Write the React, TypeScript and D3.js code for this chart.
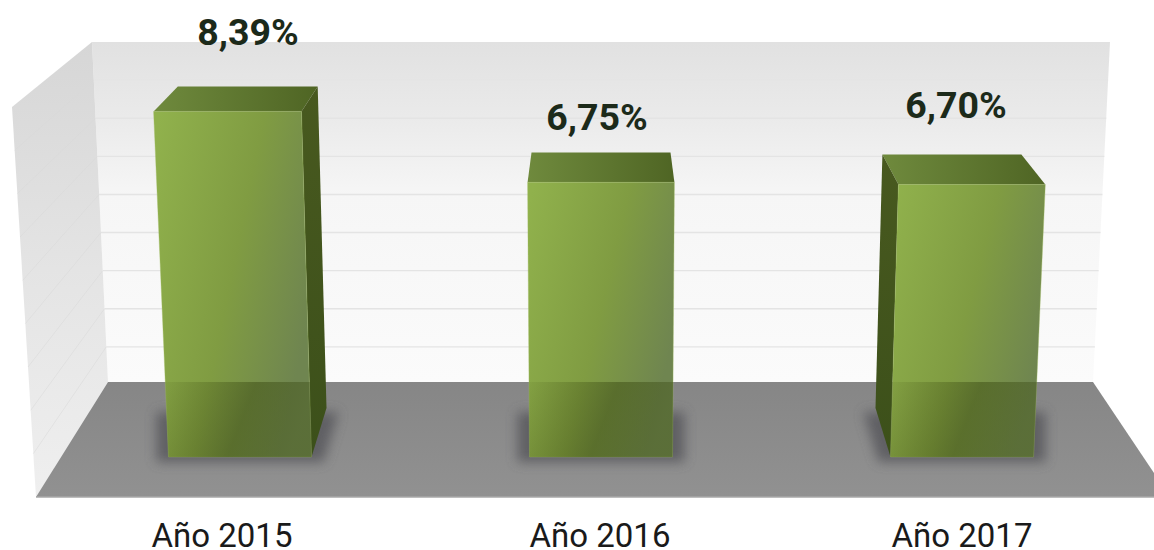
import React from "react";
import * as d3 from "d3";

const categories = ["Año 2015", "Año 2016", "Año 2017"];
const values = [8.39, 6.75, 6.7];
const valueLabels = ["8,39%", "6,75%", "6,70%"];
const gridTicks = [1, 2, 3, 4, 5, 6, 7, 8];

const W = 1154, H = 550;
const labelNudge = [[8, -42], [-4, -23], [-6, -37]];
const catNudge = [-18, -1, 0];

const cx = 601;
const FRONT_BASE = 457, BACK_BASE = 408, FLOOR_BACK = 382;
const V0 = 0.4;
const yFront = d3.scaleLinear().domain([V0, 9]).range([FRONT_BASE, FRONT_BASE - 372]);
const yBack = d3.scaleLinear().domain([V0, 9]).range([BACK_BASE, BACK_BASE - 346]);
const band = d3.scaleBand<string>().domain(categories).range([cx - 541.5, cx + 541.5]).padding(0.604).paddingOuter(0.302);
const band2 = (c: string) => band(c)!;

const wallY = d3.scaleLinear().domain([0, 9]).range([385, 42]);
const wallX = d3.scaleLinear().domain([0, 9]).range([108, 92]);
const sideY = d3.scaleLinear().domain([0, 9]).range([497, 107]);
const sideX = d3.scaleLinear().domain([0, 9]).range([36, 12]);
const wallRightX = d3.scaleLinear().domain([0, 9]).range([1093, 1110]);

const K = 1e-4, DEPTH = 0.948;
const px = (u: number, y: number, base: number, depth: number) => cx + (u - cx) * depth * (1 + K * (base - y));
const pts = (a: [number, number][]) => a.map(p => `${p[0].toFixed(1)},${p[1].toFixed(1)}`).join(" ");

export default function App() {
  const wallPoly = pts([[wallX(9), wallY(9)], [wallRightX(9), wallY(9)], [wallRightX(0), FLOOR_BACK], [wallX(0), FLOOR_BACK]]);
  const sidePoly = pts([[wallX(9), wallY(9)], [wallX(0), FLOOR_BACK], [sideX(0), sideY(0)], [sideX(9), sideY(9)]]);
  const floorPoly = pts([[wallX(0), FLOOR_BACK], [wallRightX(0), FLOOR_BACK], [1170, sideY(0)], [sideX(0), sideY(0)]]);

  return (
    <svg width={W} height={H} style={{ position: "absolute", left: 0, top: 0, background: "#fff" }}>
      <defs>
        <linearGradient id="wall" x1="0" y1="0" x2="0" y2="1">
          <stop offset="0" stopColor="#e1e1e1" />
          <stop offset="0.22" stopColor="#eaeaea" />
          <stop offset="0.45" stopColor="#f6f6f6" />
          <stop offset="1" stopColor="#fbfbfb" />
        </linearGradient>
        <linearGradient id="side" x1="0" y1="0" x2="0" y2="1">
          <stop offset="0" stopColor="#d6d6d6" />
          <stop offset="0.5" stopColor="#e4e4e4" />
          <stop offset="1" stopColor="#efefef" />
        </linearGradient>
        <linearGradient id="floor" x1="0" y1="0" x2="0" y2="1">
          <stop offset="0" stopColor="#868686" />
          <stop offset="1" stopColor="#919191" />
        </linearGradient>
        <linearGradient id="front" x1="0" y1="0.1" x2="1" y2="0.55">
          <stop offset="0" stopColor="#90b14c" />
          <stop offset="0.55" stopColor="#809c42" />
          <stop offset="1" stopColor="#6f8550" />
        </linearGradient>
        <linearGradient id="top" x1="0" y1="0" x2="1" y2="0">
          <stop offset="0" stopColor="#6f8a3d" />
          <stop offset="1" stopColor="#4f6524" />
        </linearGradient>
        <linearGradient id="side3d" x1="0" y1="0" x2="0" y2="1">
          <stop offset="0" stopColor="#48591f" />
          <stop offset="1" stopColor="#3c501a" />
        </linearGradient>
        <linearGradient id="reflect" x1="0" y1="0" x2="1" y2="0.2">
          <stop offset="0" stopColor="#40500f" stopOpacity="0.08" />
          <stop offset="0.6" stopColor="#3a4a12" stopOpacity="0.5" />
          <stop offset="1" stopColor="#3a4a12" stopOpacity="0.38" />
        </linearGradient>
        <filter id="blur" x="-30%" y="-30%" width="160%" height="160%">
          <feGaussianBlur stdDeviation="6" />
        </filter>
      </defs>

      <polygon points={wallPoly} fill="url(#wall)" />
      <polygon points={sidePoly} fill="url(#side)" />
      {gridTicks.map(t => (
        <g key={t}>
          <line x1={wallX(t)} x2={wallRightX(t)} y1={wallY(t)} y2={wallY(t)} stroke="#e4e4e4" strokeWidth={1.4} />
          <line x1={wallX(t)} x2={sideX(t)} y1={wallY(t)} y2={sideY(t)} stroke="#d8d8d8" strokeWidth={1} opacity={0.5} />
        </g>
      ))}
      <polygon points={floorPoly} fill="url(#floor)" />
      <line x1={sideX(0)} x2={W} y1={sideY(0)} y2={sideY(0)} stroke="#a8a8a8" strokeWidth={1.5} />

      {categories.map((c, i) => {
        const v = values[i];
        const l = band2(c), r = l + band.bandwidth();
        const fy = yFront(v), by = yBack(v);
        const FL = (y: number) => px(l, y, FRONT_BASE, 1);
        const FR = (y: number) => px(r, y, FRONT_BASE, 1);
        const BL = (y: number) => px(l, y, BACK_BASE, DEPTH);
        const BR = (y: number) => px(r, y, BACK_BASE, DEPTH);
        const isLeft = r < cx;
        const isRight = l > cx;
        const shadow = pts([[FL(FRONT_BASE) - 12, FRONT_BASE + 5], [FR(FRONT_BASE) + 12, FRONT_BASE + 5],
          [(isLeft ? BR(BACK_BASE) : FR(FRONT_BASE)) + 12, BACK_BASE + 4],
          [(isRight ? BL(BACK_BASE) : FL(FRONT_BASE)) - 12, BACK_BASE + 4]]);
        const frontPoly = pts([[FL(fy), fy], [FR(fy), fy], [FR(FRONT_BASE), FRONT_BASE], [FL(FRONT_BASE), FRONT_BASE]]);
        const reflectPoly = pts([[FL(FLOOR_BACK), FLOOR_BACK], [FR(FLOOR_BACK), FLOOR_BACK], [FR(FRONT_BASE), FRONT_BASE], [FL(FRONT_BASE), FRONT_BASE]]);
        return (
          <g key={c}>
            <polygon points={shadow} fill="#55555a" opacity={0.8} filter="url(#blur)" />
            <polygon points={pts([[BL(by), by], [BR(by), by], [FR(fy), fy], [FL(fy), fy]])} fill="url(#top)" />
            {isLeft && <polygon points={pts([[FR(fy), fy], [BR(by), by], [BR(BACK_BASE), BACK_BASE], [FR(FRONT_BASE), FRONT_BASE]])} fill="url(#side3d)" />}
            {isRight && <polygon points={pts([[FL(fy), fy], [BL(by), by], [BL(BACK_BASE), BACK_BASE], [FL(FRONT_BASE), FRONT_BASE]])} fill="url(#side3d)" />}
            <polygon points={frontPoly} fill="url(#front)" stroke="#9fbd60" strokeWidth={0.6} strokeOpacity={0.6} />
            <polygon points={reflectPoly} fill="url(#reflect)" />
            <text x={(l + r) / 2 + labelNudge[i][0]} y={by + labelNudge[i][1]} textAnchor="middle" fontFamily="Roboto" fontWeight={700} fontSize={37.5} fill="#1c2a1a">{valueLabels[i]}</text>
            <text x={(l + r) / 2 + catNudge[i]} y={547} textAnchor="middle" fontFamily="Roboto" fontSize={33} fill="#1a1a1a">{c}</text>
          </g>
        );
      })}
    </svg>
  );
}
